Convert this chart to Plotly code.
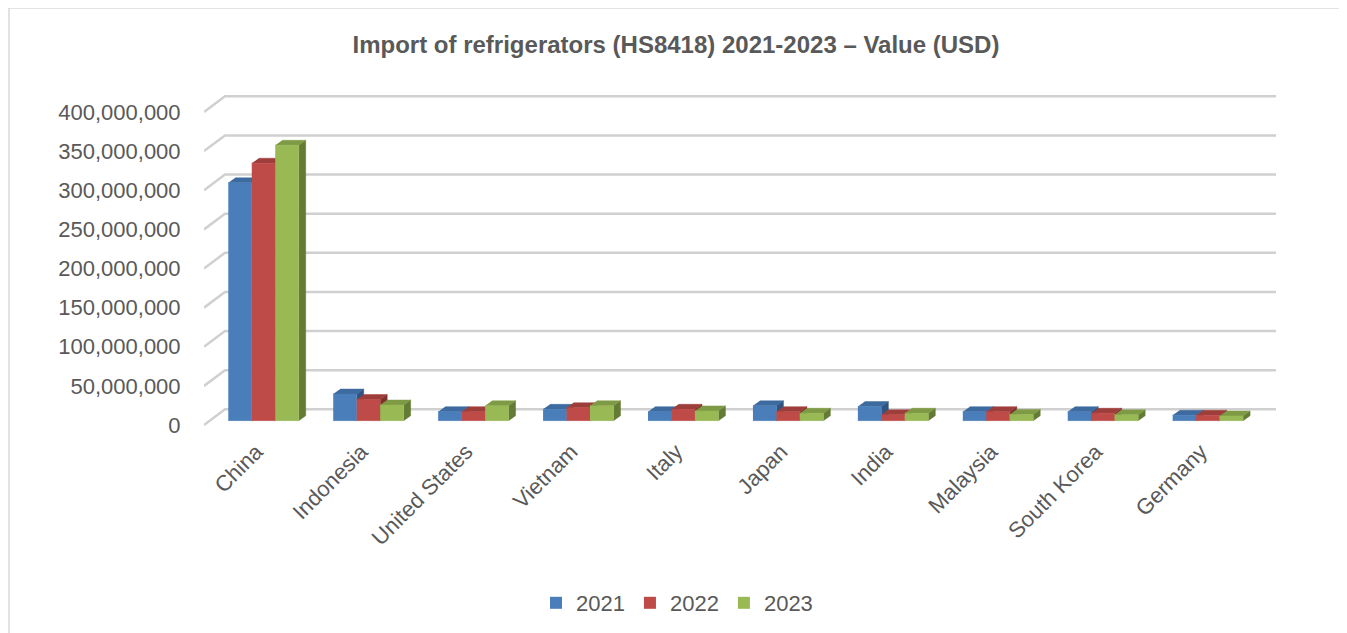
import plotly.graph_objects as go

# ---------------- data ----------------
countries = ["China", "Indonesia", "United States", "Vietnam", "Italy",
             "Japan", "India", "Malaysia", "South Korea", "Germany"]
years = ["2021", "2022", "2023"]
v2021 = [304e6, 34e6, 11.5e6, 14.5e6, 11.5e6, 19e6, 18e6, 11.5e6, 11.5e6, 7e6]
v2022 = [329e6, 27e6, 11.5e6, 16.5e6, 14.5e6, 11.5e6, 7.5e6, 11.5e6, 9.5e6, 7e6]
v2023 = [352e6, 20e6, 19e6, 19e6, 12.5e6, 9.5e6, 9.5e6, 8e6, 7.5e6, 6e6]
tick_values = [0, 50e6, 100e6, 150e6, 200e6, 250e6, 300e6, 350e6, 400e6]
series = [v2021, v2022, v2023]

# ---------------- styling / geometry ----------------
FRONT = ["#4A7EBB", "#BE4B48", "#98B954"]
TOP = ["#3D6A9F", "#9E3E3B", "#7E9A44"]
SIDE = ["#30547F", "#7E302E", "#637B35"]
GRID = "#D0D0D0"
BORDER = "#D9D9D9"
TXT = "#595959"
FONT = "Liberation Sans, Arial, sans-serif"

OFF = 8  # page body margin: screen px = figure px + OFF


def f(p):
    return p - OFF


W_FIG, H_FIG = 1347 - OFF, 633 - OFF
PL, PR, PT, PB = f(204), f(1276), f(85), f(440)   # plot area (figure px)
PW, PH = PR - PL, PB - PT
YMAX = 400e6
S = 313.0 / YMAX                                  # px per value unit
FRONT_ZERO = f(425.0)                             # label plane zero
BAR_ZERO = f(420.7)                               # bar front plane zero
BACK_ZERO = f(409.3)                              # back wall zero
BACK_LEFT = f(225.0)
CAT0_PX, CAT_STEP = f(263.5), 104.93
GROUP = 0.671
BW = GROUP / 3
DEPTH_DX_PX, DEPTH_DY_PX = 7.0, 5.0

wall_dy = (FRONT_ZERO - BACK_ZERO) / S            # wall depth in value units
WALL_LOW, WALL_HIGH = -wall_dy - 3e6, YMAX + 4e6
BAR_LOW, BAR_HIGH = -1e6, YMAX + 4e6


def ydomain(zero_px, low, high):
    bottom = zero_px - low * S
    top = zero_px - high * S
    return [(PB - bottom) / PH, (PB - top) / PH]


def xpx_dom(a, b):
    return [(a - PL) / PW, (b - PL) / PW]


x2_left = CAT0_PX - 0.5 * CAT_STEP
x2_right = CAT0_PX + 9.5 * CAT_STEP
back_frac = (BACK_LEFT - PL) / PW

fig = go.Figure()

# ---- walls: diagonal on side wall + gridline on back wall (x/y) ----
wx, wy = [], []
for v in tick_values:
    wx += [0, back_frac, 1, None]
    wy += [v - wall_dy, v, v, None]
fig.add_trace(go.Scatter(x=wx, y=wy, xaxis="x", yaxis="y", mode="lines",
                         line=dict(color=GRID, width=2.5), showlegend=False,
                         hoverinfo="skip"))

# ---- 3D bars (x2/y2) ----
ddx = DEPTH_DX_PX / CAT_STEP
ddy = DEPTH_DY_PX / S
for i, vals in enumerate(series):
    side_x, side_y, top_x, top_y, fr_x, fr_y = [], [], [], [], [], []
    for c, v in enumerate(vals):
        x0 = c - GROUP / 2 + i * BW
        x1 = x0 + BW
        side_x += [x1, x1 + ddx, x1 + ddx, x1, None]
        side_y += [0, ddy, v + ddy, v, None]
        top_x += [x0, x1, x1 + ddx, x0 + ddx, None]
        top_y += [v, v, v + ddy, v + ddy, None]
        fr_x += [x0, x1, x1, x0, None]
        fr_y += [0, 0, v, v, None]
    for xs, ys, col in ((side_x, side_y, SIDE[i]), (top_x, top_y, TOP[i]),
                        (fr_x, fr_y, FRONT[i])):
        fig.add_trace(go.Scatter(x=xs, y=ys, xaxis="x2", yaxis="y2",
                                 mode="lines", fill="toself", fillcolor=col,
                                 line=dict(color=col, width=0.5),
                                 showlegend=False, hoverinfo="skip"))

# legend entries
for i, y in enumerate(years):
    fig.add_trace(go.Scatter(x=[None], y=[None], xaxis="x2", yaxis="y2",
                             mode="markers", name=y,
                             marker=dict(symbol="square", size=12,
                                         color=FRONT[i])))

fig.update_layout(
    width=W_FIG, height=H_FIG,
    margin=dict(l=PL, r=W_FIG - PR, t=PT, b=H_FIG - PB, pad=0),
    paper_bgcolor="white", plot_bgcolor="rgba(0,0,0,0)",
    font=dict(family=FONT, color=TXT, size=22),
    title=dict(text="Import of refrigerators (HS8418) 2021-2023 – Value (USD)",
               xref="container", yref="container", x=f(676) / W_FIG,
               y=1 - f(45) / H_FIG, xanchor="center", yanchor="middle",
               font=dict(family=FONT, size=24, color=TXT, weight="bold")),
    # walls + value tick labels (labels sit on the front edge of side wall)
    xaxis=dict(domain=[0, 1], range=[0, 1], anchor="y", showgrid=False,
               zeroline=False, showline=False, showticklabels=False,
               ticks=""),
    yaxis=dict(domain=ydomain(BACK_ZERO, WALL_LOW, WALL_HIGH),
               range=[WALL_LOW, WALL_HIGH], anchor="x", side="left",
               showgrid=False, zeroline=False, showline=False,
               tickvals=[v - wall_dy for v in tick_values],
               ticktext=[f"{v:,.0f}" for v in tick_values],
               ticks="outside", ticklen=18, tickcolor="rgba(0,0,0,0)",
               tickfont=dict(size=22, color=TXT, family=FONT)),
    # bars
    xaxis2=dict(domain=xpx_dom(x2_left, x2_right), range=[-0.5, 9.5],
                anchor="y2", tickvals=list(range(len(countries))),
                ticktext=countries, tickangle=-45, showgrid=False,
                zeroline=False, showline=False, ticks="",
                ticklabelstandoff=12, ticklabelshift=-7,
                tickfont=dict(size=22, color=TXT, family=FONT)),
    yaxis2=dict(domain=ydomain(BAR_ZERO, BAR_LOW, BAR_HIGH),
                range=[BAR_LOW, BAR_HIGH], anchor="x2", visible=False),
    legend=dict(orientation="h", xref="container", yref="container",
                x=669 / W_FIG, y=1 - 595 / H_FIG, xanchor="center",
                yanchor="middle", font=dict(size=22, color=TXT, family=FONT),
                itemclick=False),
    showlegend=True,
)

# chart border
fig.add_shape(type="rect", xref="paper", yref="paper",
              x0=(f(9) - PL) / PW, x1=(f(1342) - PL) / PW,
              y0=(PB - f(660)) / PH, y1=(PB - f(8)) / PH,
              line=dict(color=BORDER, width=1.5), fillcolor="rgba(0,0,0,0)",
              layer="below")

fig.write_html("out.html")
